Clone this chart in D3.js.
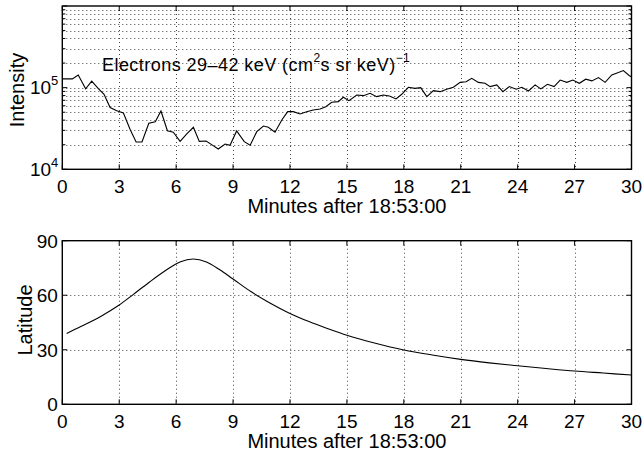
<!DOCTYPE html>
<html><head><meta charset="utf-8">
<script src="https://cdn.jsdelivr.net/npm/d3@7"></script>
<style>
html,body{margin:0;padding:0;background:#fff;}
svg{display:block;font-family:"Liberation Sans",Arial,Helvetica,sans-serif;}
</style></head><body>
<svg id="chart" width="642" height="458"></svg>
<script>
// ---- data ----
const minutes = [0,0.53,0.84,1.23,1.55,1.90,2.20,2.52,2.87,3.22,3.57,3.89,4.20,4.56,4.90,5.20,5.54,5.85,6.21,6.56,6.91,7.22,7.58,7.89,8.22,8.58,8.84,9.19,9.59,9.90,10.25,10.60,10.86,11.21,11.57,11.88,12.18,12.53,12.88,13.23,13.59,13.89,14.20,14.55,14.81,15.11,15.52,15.87,16.22,16.57,16.92,17.24,17.59,17.89,18.24,18.59,18.89,19.21,19.56,19.91,20.26,20.61,20.97,21.28,21.58,21.93,22.28,22.55,22.90,23.22,23.56,23.92,24.22,24.57,24.92,25.22,25.57,25.92,26.24,26.59,26.91,27.25,27.59,27.91,28.26,28.61,28.96,29.31,29.57,29.89,30];
const intensity = [128000,128000,143000,97000,120000,97000,83000,57000,52000,49000,31000,21600,21600,36600,38300,51800,29700,28400,22000,27100,32700,22000,22200,19900,17700,20400,19700,29500,21800,19700,28900,33900,32700,28400,40200,50800,50800,47600,50800,53300,54800,58500,66200,67400,76300,69300,81400,79800,85400,77600,81400,79100,72700,83000,101000,98000,100000,77600,91900,89300,95600,101000,116000,118000,130000,116000,113000,103000,108000,89300,103000,95600,101000,91100,108000,96400,110000,103000,124000,116000,124000,113000,127000,121000,133000,116000,143000,153000,162000,140000,136000];
const latMinutes = [0.23,1,2,3,3.75,4.6,5.5,6.2,6.9,7.6,8.3,9,10,10.8,12,13,14,15,16.4,18,19.5,21,22.5,24,25.5,27,28.5,30];
const latitude = [39,42.9,48.2,54.6,60.5,67.3,74.0,78.3,79.9,78.3,74.0,68.9,61.6,56.6,50,45.5,41.6,38.0,33.9,29.9,27.1,24.7,22.8,21.2,19.7,18.3,17.2,16.1];
const xTicks = [0,3,6,9,12,15,18,21,24,27,30];
const intensityMajor = [1e4,1e5];
const intensityExp = ["4","5"];
const intensityMinor = [2e4,3e4,4e4,5e4,6e4,7e4,8e4,9e4,2e5,3e5,4e5,5e5,6e5,7e5,8e5,9e5];
const latTicks = [0,30,60,90];
const xLabel = "Minutes after 18:53:00";

// ---- layout ----
const svg = d3.select("#chart");
const X0 = 62.3, X1 = 631.5;
const x = d3.scaleLinear().domain([0,30]).range([X0,X1]);
const yI = d3.scaleLog().domain([1e4,1e6]).range([169.3,6]);
const yL = d3.scaleLinear().domain([0,90]).range([404.3,240.7]);
const FS = 19;
const gridStyle = s => s.attr("stroke","#444").attr("stroke-width",1).attr("stroke-dasharray","1,3").attr("fill","none");

function panel(y, yGridVals, yMajor, yMinor, top, bottom) {
  const g = svg.append("g");
  g.selectAll("line.vg").data(xTicks.filter(d=>d>0&&d<30)).join("line")
    .attr("x1",d=>Math.round(x(d))+0.5).attr("x2",d=>Math.round(x(d))+0.5)
    .attr("y1",top).attr("y2",bottom).call(gridStyle);
  g.selectAll("line.hg").data(yGridVals).join("line")
    .attr("x1",X0).attr("x2",X1)
    .attr("y1",d=>Math.round(y(d))+0.5).attr("y2",d=>Math.round(y(d))+0.5).call(gridStyle);
  g.selectAll("line.xtb").data(xTicks).join("line")
    .attr("x1",d=>x(d)).attr("x2",d=>x(d)).attr("y1",bottom).attr("y2",bottom-5)
    .attr("stroke","#000").attr("stroke-width",1);
  g.selectAll("line.xtt").data(xTicks).join("line")
    .attr("x1",d=>x(d)).attr("x2",d=>x(d)).attr("y1",top).attr("y2",top+5)
    .attr("stroke","#000").attr("stroke-width",1);
  const yt = yMajor.map(v=>({v,len:5})).concat(yMinor.map(v=>({v,len:3})));
  g.selectAll("line.ytl").data(yt).join("line")
    .attr("x1",X0).attr("x2",d=>X0+d.len).attr("y1",d=>y(d.v)).attr("y2",d=>y(d.v))
    .attr("stroke","#000").attr("stroke-width",1);
  g.selectAll("line.ytr").data(yt).join("line")
    .attr("x1",X1).attr("x2",d=>X1-d.len).attr("y1",d=>y(d.v)).attr("y2",d=>y(d.v))
    .attr("stroke","#000").attr("stroke-width",1);
  g.selectAll("text.xtl").data(xTicks).join("text")
    .attr("x",d=>x(d)).attr("y",bottom+23.5).attr("text-anchor","middle")
    .attr("font-size",FS).text(d=>d);
  g.append("text").attr("x",(X0+X1)/2).attr("y",bottom+44).attr("text-anchor","middle")
    .attr("font-size",20).text(xLabel);
  return g;
}

// ---- top panel ----
const gTop = panel(yI, [1e5].concat(intensityMinor), intensityMajor.concat([1e6]), intensityMinor, 6, 169.3);
gTop.append("path").datum(minutes.map((m,i)=>[m,intensity[i]]))
  .attr("fill","none").attr("stroke","#000").attr("stroke-width",1.1)
  .attr("d", d3.line().x(d=>x(d[0])).y(d=>yI(d[1])));
gTop.append("rect").attr("x",X0).attr("y",6).attr("width",X1-X0).attr("height",169.3-6)
  .attr("fill","none").attr("stroke","#000").attr("stroke-width",1.4);
const yIl = gTop.selectAll("text.ytl").data(intensityMajor).join("text")
  .attr("x",X0-4).attr("y",d=>yI(d)+6.8).attr("text-anchor","end").attr("font-size",FS);
yIl.append("tspan").text("10");
yIl.append("tspan").attr("dy",-9).attr("font-size",13).text((d,i)=>intensityExp[i]);
gTop.append("text").attr("transform","translate(24,90) rotate(-90)").attr("text-anchor","middle")
  .attr("font-size",20).text("Intensity");
const lab = gTop.append("text").attr("x",102).attr("y",71.3).attr("font-size",18).attr("letter-spacing",0.45);
lab.append("tspan").text("Electrons 29\u201342 keV (cm");
lab.append("tspan").attr("dy",-9).attr("font-size",12).text("2");
lab.append("tspan").attr("dy",9).text("s sr keV)");
lab.append("tspan").attr("dy",-9).attr("font-size",12).text("\u22121");

// ---- bottom panel ----
const gBot = panel(yL, [30,60], latTicks, [], 240.7, 404.3);
gBot.append("path").datum(latMinutes.map((m,i)=>[m,latitude[i]]))
  .attr("fill","none").attr("stroke","#000").attr("stroke-width",1.1)
  .attr("d", d3.line().curve(d3.curveCatmullRom.alpha(0.5)).x(d=>x(d[0])).y(d=>yL(d[1])));
gBot.append("rect").attr("x",X0).attr("y",240.7).attr("width",X1-X0).attr("height",404.3-240.7)
  .attr("fill","none").attr("stroke","#000").attr("stroke-width",1.4);
gBot.selectAll("text.ytl").data(latTicks).join("text")
  .attr("x",X0-4.5).attr("y",d=>yL(d)+6.8).attr("text-anchor","end").attr("font-size",FS).text(d=>d);
gBot.append("text").attr("transform","translate(31.5,320) rotate(-90)").attr("text-anchor","middle")
  .attr("font-size",20).text("Latitude");
</script>
</body></html>
